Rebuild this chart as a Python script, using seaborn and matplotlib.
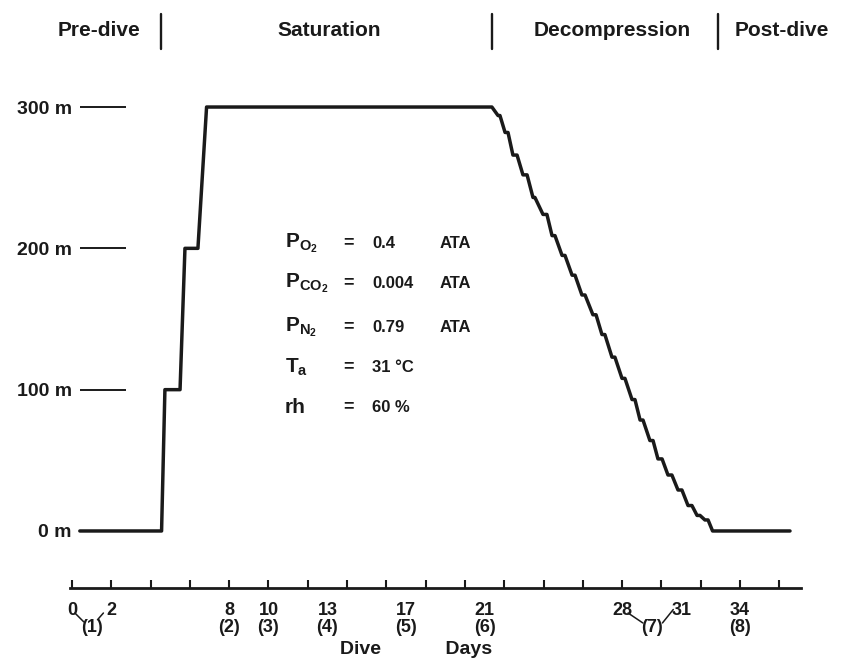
import matplotlib
matplotlib.use("Agg")
import matplotlib.pyplot as plt
import seaborn as sns

# ---------------- data ----------------
# dive profile: day vs depth (m)
profile_days = [0.4, 4.56, 4.73, 5.50, 5.75, 6.41, 6.85, 21.37,
                21.68, 21.78, 22.04, 22.19, 22.44, 22.65, 22.95, 23.16,
                23.46, 23.56, 23.97, 24.17, 24.43, 24.58, 24.94, 25.09,
                25.45, 25.60, 25.95, 26.11, 26.51, 26.67, 26.97, 27.12,
                27.48, 27.63, 27.99, 28.14, 28.50, 28.65, 28.91, 29.06,
                29.41, 29.57, 29.82, 30.03, 30.33, 30.53, 30.84, 31.04,
                31.35, 31.55, 31.81, 31.96, 32.21, 32.37, 32.60, 36.54]
profile_depth = [0, 0, 100, 100, 200, 200, 300, 300,
                 294, 294, 282, 282, 266, 266, 252, 252,
                 236, 236, 224, 224, 209, 209, 195, 195,
                 181, 181, 167, 167, 153, 153, 139, 139,
                 123, 123, 108, 108, 93, 93, 78.5, 78.5,
                 64, 64, 51, 51, 39.6, 39.6, 29, 29,
                 18, 18, 11, 11, 7.8, 7.8, 0, 0]

depth_ticks = [0, 100, 200, 300]
depth_labels = ["0 m", "100 m", "200 m", "300 m"]

tick_days = [0, 2, 4, 6, 8, 10, 12, 14, 16, 18, 20, 22, 24, 26, 28, 30, 32, 34, 36]
label_days = [0, 2, 8, 10, 13, 17, 21, 28, 31, 34]
sample_days = [1.0, 8, 10, 13, 17, 21, 29.5, 34]
sample_labels = ["(1)", "(2)", "(3)", "(4)", "(5)", "(6)", "(7)", "(8)"]

phase_names = ["Pre-dive", "Saturation", "Decompression", "Post-dive"]
phase_centers = [1.4, 13.1, 27.5, 36.1]
phase_bounds = [4.55, 21.4, 32.9]

cond_names = [r"$\mathbf{P}_{\mathbf{O_2}}$", r"$\mathbf{P}_{\mathbf{CO_2}}$",
              r"$\mathbf{P}_{\mathbf{N_2}}$", r"$\mathbf{T}_{\mathbf{a}}$", "rh"]
cond_values = ["0.4", "0.004", "0.79", "31 °C", "60 %"]
cond_units = ["ATA", "ATA", "ATA", "", ""]

# ---------------- style ----------------
sns.set_style("white")
plt.rcParams["font.family"] = ["Liberation Sans", "DejaVu Sans"]
plt.rcParams["font.weight"] = "bold"
plt.rcParams["mathtext.fontset"] = "custom"
plt.rcParams["mathtext.rm"] = "Liberation Sans"
plt.rcParams["mathtext.bf"] = "Liberation Sans:bold"
plt.rcParams["mathtext.it"] = "Liberation Sans:italic"

ink = "#1a1a1a"

fig = plt.figure(figsize=(8.41, 6.58), dpi=100)
ax = fig.add_axes([70 / 841, 1 - 587.5 / 658, 731 / 841, 537 / 658])

sns.lineplot(x=profile_days, y=profile_depth, ax=ax, estimator=None,
             sort=False, color=ink, linewidth=2.5)

ax.set_xlim(-0.1, 37.1)
ax.set_ylim(-40, 340)

for s in ["top", "right", "left"]:
    ax.spines[s].set_visible(False)
ax.spines["bottom"].set_linewidth(2.0)
ax.spines["bottom"].set_color(ink)
ax.set_xticks(tick_days)
ax.tick_params(axis="x", bottom=True, direction="in", length=6, width=1.5,
               color=ink, labelbottom=False)
ax.set_yticks([])

# depth axis with long left ticks
sec = ax.secondary_yaxis((126 - 70) / 731)
for s in sec.spines.values():
    s.set_visible(False)
sec.set_yticks(depth_ticks, labels=depth_labels)
sec.tick_params(axis="y", left=True, direction="out", length=33, width=1.4,
                color=ink, pad=6, labelsize=14, labelcolor=ink)
for t in sec.get_yticklabels():
    t.set_fontweight("bold")

trans = ax.get_xaxis_transform()

# day labels
for d in label_days:
    ax.text(d, -0.042, str(d), transform=trans, ha="center", va="center",
            fontsize=13, fontweight="bold", color=ink, clip_on=False)
for d, lab in zip(sample_days, sample_labels):
    ax.text(d, -0.0745, lab, transform=trans, ha="center", va="center",
            fontsize=13, fontweight="bold", color=ink, clip_on=False)

# small connectors for shared samples
ax.plot([0.15, 0.6], [-0.0475, -0.064], transform=trans, color=ink, lw=1.1, clip_on=False)
ax.plot([1.6, 1.3], [-0.0475, -0.060], transform=trans, color=ink, lw=1.1, clip_on=False)
ax.plot([28.3, 29.05], [-0.0475, -0.066], transform=trans, color=ink, lw=1.1, clip_on=False)
ax.plot([30.6, 30.05], [-0.041, -0.066], transform=trans, color=ink, lw=1.1, clip_on=False)

ax.set_xlabel("Dive            Days", fontsize=14, fontweight="bold", color=ink)
ax.xaxis.set_label_coords((416 - 70) / 731, -0.116)
ax.xaxis.label.set_verticalalignment("center")

# phase labels and separators
for name, c in zip(phase_names, phase_centers):
    ax.text(c, 1.038, name, transform=trans, ha="center", va="center",
            fontsize=15, fontweight="bold", color=ink, clip_on=False)
for b in phase_bounds:
    ax.plot([b, b], [1.003, 1.068], transform=trans, color=ink, lw=1.7,
            clip_on=False)

# conditions
cond_y = [203.7, 175.4, 144.3, 116.0, 87.7]
for name, val, unit, y in zip(cond_names, cond_values, cond_units, cond_y):
    ax.text(10.84, y, name, ha="left", va="center", fontsize=15,
            fontweight="bold", color=ink)
    ax.text(14.05, y, "=", ha="center", va="center", fontsize=13,
            fontweight="bold", color=ink)
    ax.text(15.27, y, val, ha="left", va="center", fontsize=12,
            fontweight="bold", color=ink)
    if unit:
        ax.text(18.73, y, unit, ha="left", va="center", fontsize=12,
                fontweight="bold", color=ink)

fig.savefig("out.png", dpi=100, facecolor="white")
